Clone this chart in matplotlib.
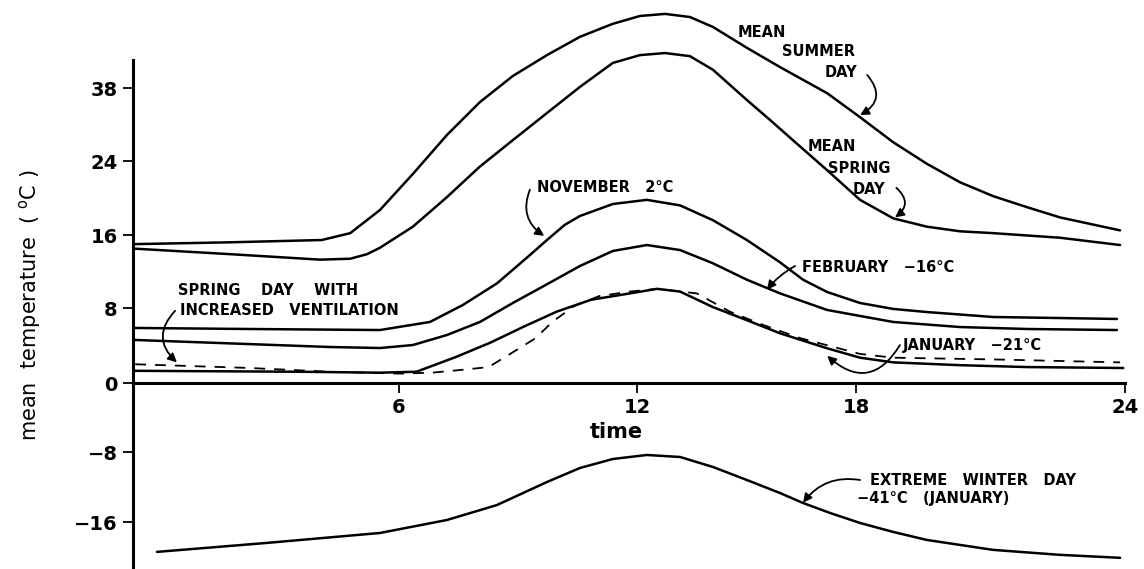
import numpy as np
import matplotlib
matplotlib.use("Agg")
import matplotlib.pyplot as plt

# ---------------- daily temperature courses (hour of day, mean temperature in °C) ----------------
summer_h = [0.05, 2.19, 4.26, 4.90, 5.57, 6.35, 7.21, 8.04, 8.87, 9.73, 10.56, 11.39, 12.08,
            12.77, 13.45, 14.08, 15.01, 15.92, 17.21, 18.09, 18.83, 19.58, 20.32, 21.06,
            21.82, 22.55, 23.22, 23.89]
summer_t = [15.0, 15.2, 15.45, 16.2, 18.7, 22.6, 29.0, 35.3, 40.3, 44.3, 47.8, 50.3, 51.8,
            52.2, 51.6, 49.7, 45.7, 42.0, 37.0, 32.4, 27.6, 23.7, 21.7, 20.2,
            19.0, 17.9, 17.2, 16.5]

spring_h = [0.05, 2.19, 4.22, 4.90, 5.28, 5.57, 6.35, 7.21, 8.04, 8.87, 9.73, 10.56, 11.39,
            12.08, 12.77, 13.45, 14.08, 15.01, 15.64, 16.27, 17.21, 18.09, 18.83, 19.58,
            20.32, 21.06, 22.55, 23.89]
spring_t = [14.5, 13.9, 13.3, 13.4, 13.9, 14.6, 16.9, 20.1, 23.4, 28.0, 33.2, 38.2, 42.8,
            44.3, 44.7, 44.1, 41.5, 35.7, 31.9, 28.0, 23.0, 19.8, 17.8, 16.9,
            16.4, 16.2, 15.7, 14.9]

november_h = [0.05, 2.64, 5.57, 6.78, 7.61, 8.47, 9.30, 9.73, 10.18, 10.56, 11.39, 12.27,
              13.18, 14.08, 15.01, 15.92, 16.55, 17.21, 18.09, 18.83, 19.58, 21.06, 22.55, 23.82]
november_t = [5.87, 5.76, 5.65, 6.51, 8.33, 10.7, 13.8, 15.45, 17.1, 18.05, 19.35, 19.8,
              19.2, 17.6, 15.45, 13.0, 11.1, 9.75, 8.55, 7.9, 7.57, 7.04, 6.93, 6.83]

february_h = [0.05, 4.44, 5.57, 6.35, 7.21, 8.04, 8.87, 9.73, 10.56, 11.39, 12.27, 13.18,
              14.08, 15.01, 15.92, 17.21, 18.09, 18.83, 20.32, 21.82, 23.82]
february_t = [4.59, 3.84, 3.73, 4.05, 5.12, 6.51, 8.55, 10.6, 12.6, 14.25, 14.9, 14.35,
              12.9, 11.1, 9.6, 7.79, 7.15, 6.51, 5.97, 5.76, 5.65]

january_h = [0.05, 3.77, 5.57, 6.44, 7.45, 8.30, 9.14, 9.97, 10.84, 11.82, 12.55, 13.18,
             14.08, 15.01, 15.92, 17.21, 18.09, 18.83, 20.32, 21.82, 23.96]
january_t = [1.3, 1.2, 1.1, 1.2, 2.8, 4.3, 6.0, 7.6, 8.9, 9.6, 10.1, 9.8,
             8.1, 6.7, 5.3, 3.7, 2.7, 2.2, 1.9, 1.7, 1.6]

ventilated_h = [0.05, 2.64, 4.44, 6.03, 6.83, 7.58, 8.26, 8.84, 9.45, 9.86, 10.41, 11.04,
                11.82, 12.55, 13.64, 14.55, 15.45, 16.46, 18.09, 18.83, 21.21, 23.89]
ventilated_t = [2.0, 1.6, 1.2, 1.0, 1.1, 1.4, 1.7, 3.2, 4.8, 6.5, 8.2, 9.3,
                9.8, 10.1, 9.6, 7.6, 6.2, 4.8, 3.1, 2.7, 2.5, 2.2]

extreme_h = [0.54, 3.02, 5.57, 7.21, 8.47, 9.73, 10.56, 11.39, 12.27, 13.18, 14.08, 15.01,
             15.92, 16.55, 17.29, 18.09, 18.83, 19.58, 21.06, 22.55, 23.89]
extreme_t = [-19.43, -18.4, -17.26, -15.77, -14.06, -11.43, -9.83, -8.80, -8.34, -8.57,
             -9.71, -11.2, -12.69, -13.83, -14.97, -16.11, -17.14, -18.06, -19.2, -19.77, -20.11]

y_ticks = [38, 24, 16, 8, 0, -8, -16]
y_ticklabels = ["38", "24", "16", "8", "0", "\u22128", "\u221216"]
x_ticks = [6, 12, 18, 24]
x_ticklabels = ["6", "12", "18", "24"]

# ---------------- the printed axes are not evenly divided: piecewise scales ----------------
W, H = 1144, 569
y_knots = [-30, -16, -8, 0, 8, 16, 24, 38, 70]
y_pos = [644, 522, 452, 383, 308, 235, 161, 88, -79]
x_knots = [-2, 0, 6, 12, 18, 24, 27]
x_pos = [44, 133, 399, 637, 856, 1125, 1260]


def fwd_y(t):
    return -np.interp(t, y_knots, y_pos)


def inv_y(p):
    return np.interp(p, -np.array(y_pos, float), y_knots)


def fwd_x(h):
    return np.interp(h, x_knots, x_pos)


def inv_x(p):
    return np.interp(p, x_pos, x_knots)


fig = plt.figure(figsize=(W / 100, H / 100), dpi=100)
ax = fig.add_axes([133 / W, 0, (W - 133) / W, 1])
ax.set_xscale("function", functions=(fwd_x, inv_x))
ax.set_yscale("function", functions=(fwd_y, inv_y))
ax.set_xlim(0, inv_x(W))
ax.set_ylim(inv_y(-H), inv_y(0))

lw = 1.8
line_kw = dict(color="black", lw=lw, solid_joinstyle="round", solid_capstyle="round")
ax.plot(summer_h, summer_t, **line_kw)
ax.plot(spring_h, spring_t, **line_kw)
ax.plot(november_h, november_t, **line_kw)
ax.plot(february_h, february_t, **line_kw)
ax.plot(january_h, january_t, **line_kw)
ax.plot(ventilated_h, ventilated_t, color="black", lw=1.3, dashes=(6, 5))
ax.plot(extreme_h, extreme_t, **line_kw)

# axes drawn like the hand-made original: y axis at left, time axis through 0 °C
for s in ["top", "right"]:
    ax.spines[s].set_visible(False)
ax.spines["left"].set_linewidth(2.2)
ax.spines["left"].set_bounds(inv_y(-H), 43.4)
ax.spines["bottom"].set_position(("data", 0))
ax.spines["bottom"].set_linewidth(2.2)
ax.spines["bottom"].set_bounds(0, 24)

ax.set_yticks(y_ticks)
ax.set_yticklabels(y_ticklabels)
ax.set_xticks(x_ticks)
ax.set_xticklabels(x_ticklabels)
ax.minorticks_off()
ax.tick_params(axis="both", direction="out", length=7, width=1.3, labelsize=14, pad=4)
for lab in ax.get_xticklabels() + ax.get_yticklabels():
    lab.set_fontweight("bold")

fig.text(616 / W, 1 - 432 / H, "time", ha="center", va="center", fontsize=15, fontweight="bold")
fig.text(30 / W, 1 - 305 / H, "mean  temperature  ( $^{\\mathrm{o}}$C )", rotation=90,
         ha="center", va="center", fontsize=15)

# ---------------- labels with hooked arrows ----------------
tkw = dict(fontsize=10.5, fontweight="bold", ha="left", va="center")


def arrow(start, end, rad):
    ax.annotate("", xy=end, xytext=start,
                arrowprops=dict(arrowstyle="-|>", connectionstyle=f"arc3,rad={rad}",
                                color="black", lw=1.3, shrinkA=0, shrinkB=0,
                                mutation_scale=13))


ax.text(14.77, 48.7, "MEAN", **tkw)
ax.text(15.97, 44.9, "SUMMER", **tkw)
ax.text(17.15, 40.9, "DAY", **tkw)
arrow((18.25, 40.5), (18.09, 32.8), -0.6)

ax.text(16.68, 26.7, "MEAN", **tkw)
ax.text(17.23, 23.2, "SPRING", **tkw)
ax.text(17.92, 20.9, "DAY", **tkw)
arrow((18.9, 21.1), (18.87, 17.9), -0.6)

ax.text(9.48, 21.1, "NOVEMBER   2°C", **tkw)
arrow((9.30, 20.9), (9.66, 15.9), 0.4)

ax.text(16.52, 12.4, "FEBRUARY   \u221216°C", **tkw)
arrow((16.33, 12.6), (15.56, 10.0), 0.1)

ax.text(19.05, 4.05, "JANUARY   \u221221°C", **tkw)
arrow((18.98, 4.05), (17.21, 2.9), -0.6)

ax.text(18.31, -11.2, "EXTREME   WINTER   DAY", **tkw)
ax.text(18.02, -13.3, "\u221241°C   (JANUARY)", **tkw)
arrow((18.09, -11.2), (16.55, -13.8), 0.3)

ax.text(1.02, 9.97, "SPRING    DAY    WITH", **tkw)
ax.text(1.06, 7.7, "INCREASED   VENTILATION", **tkw)
arrow((0.95, 7.7), (0.99, 2.2), 0.5)

fig.savefig("out.png", dpi=100)
